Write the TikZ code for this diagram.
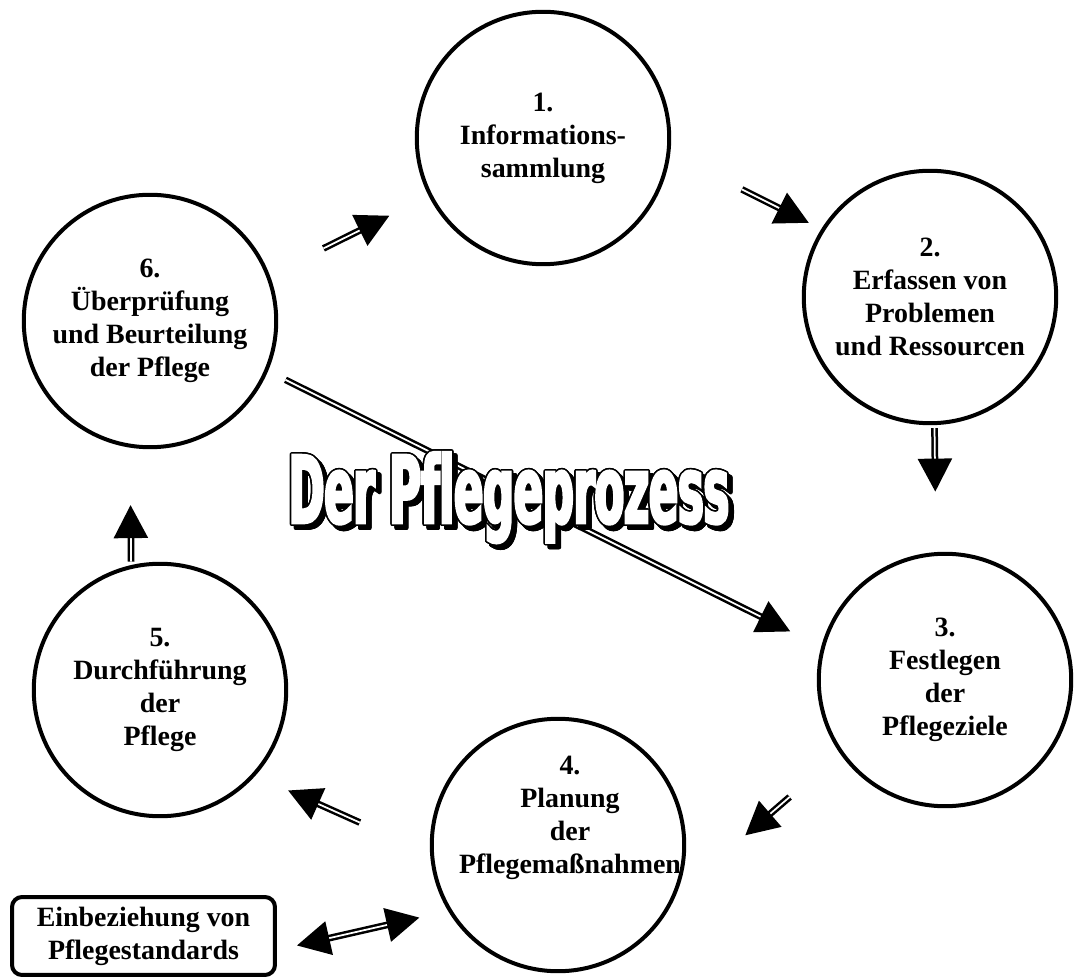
\documentclass[tikz,border=0pt]{standalone}
\usepackage{fontspec}
\setmainfont{Liberation Serif}
\newfontfamily\titelfont[FakeStretch=0.46, FakeBold=3, Ligatures=NoCommon]{DejaVu Sans}
\usepackage{contour}
\contourlength{0.9pt}
\usetikzlibrary{arrows.meta}
\newcommand{\schrift}{\fontsize{15.9}{18.8}\selectfont\bfseries}
\newcommand{\titel}{\titelfont\bfseries\fontsize{53}{53}\selectfont}
\tikzset{
    %Define standard arrow tip
    >={Triangle[length=0.66cm,width=0.68cm]},
    %Define style for the steps of the cycle
    stufe/.style={
           circle,
           draw=black,
           line width=0.08cm,
           minimum size=5.05cm,
           inner sep=0pt,
           align=center,
           font=\schrift},
    %Define style for the side box
    kasten/.style={
           rectangle,
           rounded corners=0.2cm,
           draw=black,
           line width=0.08cm,
           minimum width=5.26cm,
           minimum height=1.56cm,
           align=center,
           font=\schrift},
    % Define arrow style
    pfeil/.style={
           ->,
           line width=0.05cm,
           double=white,
           double distance=0.035cm}
}

\begin{document}
\begin{tikzpicture}[x=0.02cm, y=-0.02cm]
  \useasboundingbox (0,0) rectangle (1075,979);
  \node[stufe] (p1) at (543,138) {1.\\Informations-\\sammlung};
  \node[stufe] (p2) at (930,297) {2.\\Erfassen von\\Problemen\\und Ressourcen};
  \node[stufe] (p3) at (945,680) {3.\\Festlegen\\der\\Pflegeziele};
  \node[stufe] (p4) at (558,845) {};
  \node[font=\schrift, align=center] (p4text) at (570,818) {4.\\Planung\\der\\Pflegemaßnahmen};
  \node[stufe] (p5) at (160,690) {5.\\Durchführung\\der\\Pflege};
  \node[stufe] (p6) at (150,321) {6.\\Überprüfung\\und Beurteilung\\der Pflege};
  \node[kasten] (standards) at (143.5,936) {Einbeziehung von\\Pflegestandards};

  \draw[pfeil, shorten <=1.2cm, shorten >=0.88cm] (p6.21.6) -- (p1.207.5);
  \draw[pfeil, shorten <=1.6cm, shorten >=0.28cm] (p1.-7) -- (p2.148);
  \draw[pfeil, shorten <=0.06cm, shorten >=1.21cm] (p2.-88) -- (p3.94.5);
  \draw[pfeil, shorten <=1.33cm, shorten >=1.83cm] (p3.215.4) -- (p4.-23.6);
  \draw[pfeil, shorten <=1.54cm, shorten >=0.72cm] (p4.184.1) -- (p5.-42.2);
  \draw[pfeil, shorten <=0.07cm, shorten >=1.15cm] (p5.103.6) -- (p6.261);
  \draw[pfeil, shorten <=0.39cm, shorten >=0.69cm] (p6.-23) -- (p3.165.8);
  \draw[pfeil, <->, shorten <=0.41cm, shorten >=0.59cm] (standards.-6) -- (p4.211);

  \node[anchor=base, font=\titel, text=black] (schatten) at (513,527) {\contour{black}{Der Pflegeprozess}};
  \node[anchor=base, font=\titel, text=white] (titel) at (509,523) {\contour{black}{Der Pflegeprozess}};
\end{tikzpicture}
\end{document}
